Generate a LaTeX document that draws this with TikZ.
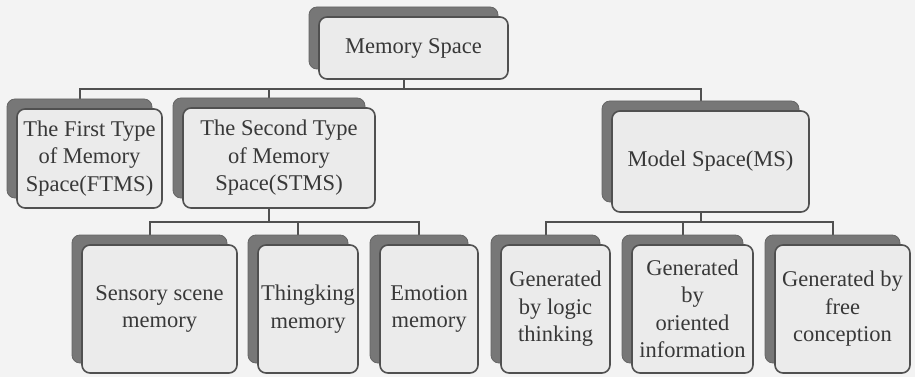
\documentclass[tikz,border=0pt]{standalone}
\usepackage{fontspec}
\setmainfont{Liberation Serif}
\newfontfamily\cardfont{Liberation Serif}
\usetikzlibrary{backgrounds}
\definecolor{bg}{HTML}{F3F3F3}
\definecolor{shade}{HTML}{777777}
\definecolor{face}{HTML}{EBEBEB}
\definecolor{edge}{HTML}{505050}
\definecolor{ink}{HTML}{383838}
\tikzset{
  backbox/.style={fill=shade, draw=shade!85!black, line width=0.8pt, rounded corners=8pt, inner sep=0pt},
  facebox/.style={fill=face, draw=edge, line width=1.6pt, rounded corners=8pt, inner sep=1pt,
    align=center, text=ink, font=\cardfont\fontsize{22.5}{27.5}\selectfont},
  conn/.style={draw=edge, line width=2pt},
}
% name, x1, y1, x2, y2, text  (pixel coordinates, y downwards)
\newcommand\memcard[6]{%
  \node[backbox, minimum width={(#4-#2)*1pt}, minimum height={(#5-#3)*1pt}]
    (#1S) at ({(#2+#4)/2-10},{(#3+#5)/2-10}) {};
  \node[facebox, minimum width={(#4-#2)*1pt}, minimum height={(#5-#3)*1pt}]
    (#1) at ({(#2+#4)/2},{(#3+#5)/2}) {#6};
}
\begin{document}
\begin{tikzpicture}[x=1pt, y=-1pt]
  \useasboundingbox (0,0) rectangle (915,377);

  \memcard{mem}{319}{17}{508}{79}{Memory Space}
  \memcard{ftms}{17}{109}{162}{208}{The First Type\\of Memory\\Space(FTMS)}
  \memcard{stms}{183}{108}{375}{208}{The Second Type\\of Memory\\Space(STMS)}
  \memcard{ms}{612}{111}{809}{212}{Model Space(MS)}

  \memcard{sens}{82}{245}{237}{373}{Sensory scene\\memory}
  \memcard{think}{258}{245}{358}{373}{Thingking\\memory}
  \memcard{emo}{380}{245}{478}{373}{Emotion\\memory}

  \memcard{logic}{501}{245}{610}{373}{Generated\\by logic\\thinking}
  \memcard{orient}{632}{245}{753}{373}{Generated\\by\\oriented\\information}
  \memcard{free}{775}{245}{910}{373}{Generated by\\free\\conception}

  \coordinate (busA) at (0,89);
  \coordinate (busB) at (0,222);
  \coordinate (busC) at (0,222);

  \begin{scope}[on background layer]
    \fill[bg] (0,0) rectangle (915,377);
    % top level
    \draw[conn] (memS.south) -- (memS.south |- busA);
    \draw[conn] (ftmsS.north) -- (ftmsS.north |- busA) -- (msS.north |- busA) -- (msS.north);
    \draw[conn] (stmsS.north) -- (stmsS.north |- busA);
    % STMS branch
    \draw[conn] (stmsS.south) -- (stmsS.south |- busB);
    \draw[conn] (sensS.north) -- (sensS.north |- busB) -- (emoS.north |- busB) -- (emoS.north);
    \draw[conn] (thinkS.north) -- (thinkS.north |- busB);
    % MS branch
    \draw[conn] (msS.south) -- (msS.south |- busC);
    \draw[conn] (logicS.north) -- (logicS.north |- busC) -- (freeS.north |- busC) -- (freeS.north);
    \draw[conn] (orientS.north) -- (orientS.north |- busC);
  \end{scope}
\end{tikzpicture}
\end{document}
